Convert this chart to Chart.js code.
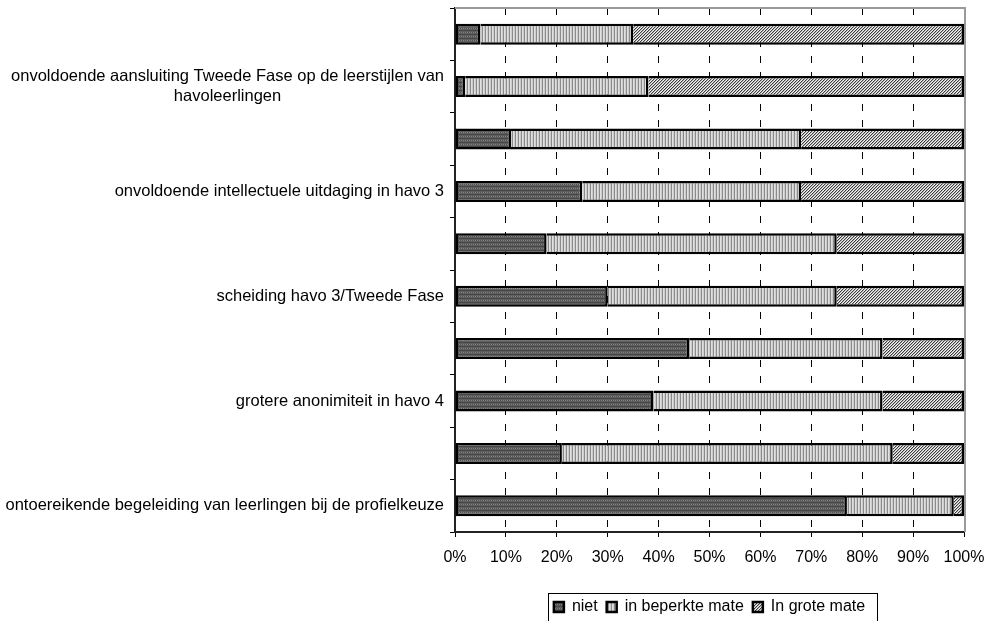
<!DOCTYPE html>
<html>
<head>
<meta charset="utf-8">
<script src="https://cdn.jsdelivr.net/npm/chart.js@4/dist/chart.umd.min.js"></script>
<style>
  html, body { margin: 0; padding: 0; background: #fff; }
  canvas { display: block; }
</style>
</head>
<body>
<canvas id="chart" width="994" height="621"></canvas>
<script>
// Statements (every other row carries a label)
const categories = [
  '',
  ['onvoldoende aansluiting Tweede Fase op de leerstijlen van', 'havoleerlingen'],
  '',
  'onvoldoende intellectuele uitdaging in havo 3',
  '',
  'scheiding havo 3/Tweede Fase',
  '',
  'grotere anonimiteit in havo 4',
  '',
  'ontoereikende begeleiding van leerlingen bij de profielkeuze'
];

// Share of answers per row, in percent
const niet          = [5, 2, 11, 25, 18, 30, 46, 39, 21, 77];
const beperkteMate  = [30, 36, 57, 43, 57, 45, 38, 45, 65, 21];
const groteMate     = [65, 62, 32, 32, 25, 25, 16, 16, 14, 2];

const seriesNames = ['niet', 'in beperkte mate', 'In grote mate'];
const xTickLabels = ['0%', '10%', '20%', '30%', '40%', '50%', '60%', '70%', '80%', '90%', '100%'];

const FONT = '"Liberation Sans", Arial, Helvetica, sans-serif';
Chart.defaults.font.family = FONT;
Chart.defaults.font.size = 16;
Chart.defaults.color = '#000';

// Small tiled fills
function makePattern(w, h, paint) {
  const c = document.createElement('canvas');
  c.width = w; c.height = h;
  const g = c.getContext('2d');
  paint(g);
  return g.createPattern(c, 'repeat');
}
function px(g, x, y, col) { g.fillStyle = col; g.fillRect(x, y, 1, 1); }

const darkDots = makePattern(4, 4, g => {
  g.fillStyle = '#5e5e5e'; g.fillRect(0, 0, 4, 4);
  for (let x = 0; x < 4; x++) {
    px(g, x, 0, x % 2 ? '#858585' : '#505050');
    px(g, x, 2, '#474747');
  }
});
const verticalStripes = makePattern(3, 1, g => {
  px(g, 0, 0, '#e0e0e0');
  px(g, 1, 0, '#cccccc');
  px(g, 2, 0, '#8a8a8a');
});
const diagonalHatch = makePattern(3, 3, g => {
  for (let y = 0; y < 3; y++) {
    for (let x = 0; x < 3; x++) {
      const k = (x + y) % 3;
      px(g, x, y, k === 0 ? '#3c3c3c' : (k === 1 ? '#b4b4b4' : '#f2f2f2'));
    }
  }
});

// Frame on top/right, multi-line row labels and the box round the legend
const decorations = {
  id: 'decorations',
  beforeDatasetsDraw(chart) {
    const { ctx, chartArea: a } = chart;
    ctx.save();
    ctx.strokeStyle = '#9a9a9a';
    ctx.lineWidth = 2;
    ctx.beginPath();
    ctx.moveTo(a.left, a.top);
    ctx.lineTo(a.right + 1, a.top);
    ctx.lineTo(a.right + 1, a.bottom);
    ctx.stroke();
    ctx.restore();
  },
  afterDraw(chart) {
    const { ctx } = chart;
    const yScale = chart.scales.y;
    ctx.save();
    ctx.font = '16.5px ' + FONT;
    ctx.fillStyle = '#000';
    ctx.textAlign = 'center';
    ctx.textBaseline = 'middle';
    const lineHeight = 20.6;
    categories.forEach((label, i) => {
      const lines = Array.isArray(label) ? label : [label];
      if (!lines.join('')) return;
      const w = Math.max(...lines.map(l => ctx.measureText(l).width));
      const cx = yScale.right - 11 - w / 2;
      const cy = yScale.getPixelForValue(i);
      lines.forEach((l, k) => {
        ctx.fillText(l, cx, cy + (k - (lines.length - 1) / 2) * lineHeight);
      });
    });

    const boxes = chart.legend && chart.legend.legendHitBoxes;
    if (boxes && boxes.length) {
      const left = Math.min(...boxes.map(b => b.left)) - 6;
      const right = Math.max(...boxes.map(b => b.left + b.width)) + 12;
      const top = boxes[0].top - 6;
      ctx.strokeStyle = '#000';
      ctx.lineWidth = 1;
      ctx.strokeRect(Math.round(left) + 0.5, Math.round(top) + 0.5, Math.round(right - left), 40);
    }
    ctx.restore();
  }
};

const commonBar = {
  borderColor: '#000',
  borderWidth: 2.5,
  barPercentage: 0.4,
  categoryPercentage: 1
};

new Chart(document.getElementById('chart'), {
  type: 'bar',
  data: {
    labels: categories,
    datasets: [
      { ...commonBar, label: seriesNames[0], data: niet, backgroundColor: darkDots, borderSkipped: false },
      { ...commonBar, label: seriesNames[1], data: beperkteMate, backgroundColor: verticalStripes },
      { ...commonBar, label: seriesNames[2], data: groteMate, backgroundColor: diagonalHatch }
    ]
  },
  options: {
    indexAxis: 'y',
    responsive: false,
    animation: false,
    events: [],
    layout: { padding: { top: 8, right: 30, bottom: -4, left: 0 } },
    scales: {
      x: {
        stacked: true,
        min: 0,
        max: 100,
        ticks: {
          stepSize: 10,
          autoSkip: false,
          maxRotation: 0,
          padding: 11,
          callback: (v, i) => xTickLabels[i]
        },
        grid: { color: '#000', lineWidth: 1, tickLength: 5, drawTicks: true },
        border: { display: true, color: '#222', width: 2, dash: [7, 9] },
        afterFit(s) { s.height = 58; s.paddingRight = 20; s.paddingLeft = 20; }
      },
      y: {
        stacked: true,
        offset: true,
        ticks: { display: false },
        grid: { offset: true, drawOnChartArea: false, drawTicks: true, tickLength: 5, color: '#000', lineWidth: 1 },
        border: { display: true, color: '#222', width: 2 },
        afterFit(s) { s.width = 455; }
      }
    },
    plugins: {
      tooltip: { enabled: false },
      legend: {
        position: 'bottom',
        fullSize: false,
        labels: { boxWidth: 10, boxHeight: 10, padding: 9, font: { size: 16 } }
      }
    }
  },
  plugins: [decorations]
});
</script>
</body>
</html>
